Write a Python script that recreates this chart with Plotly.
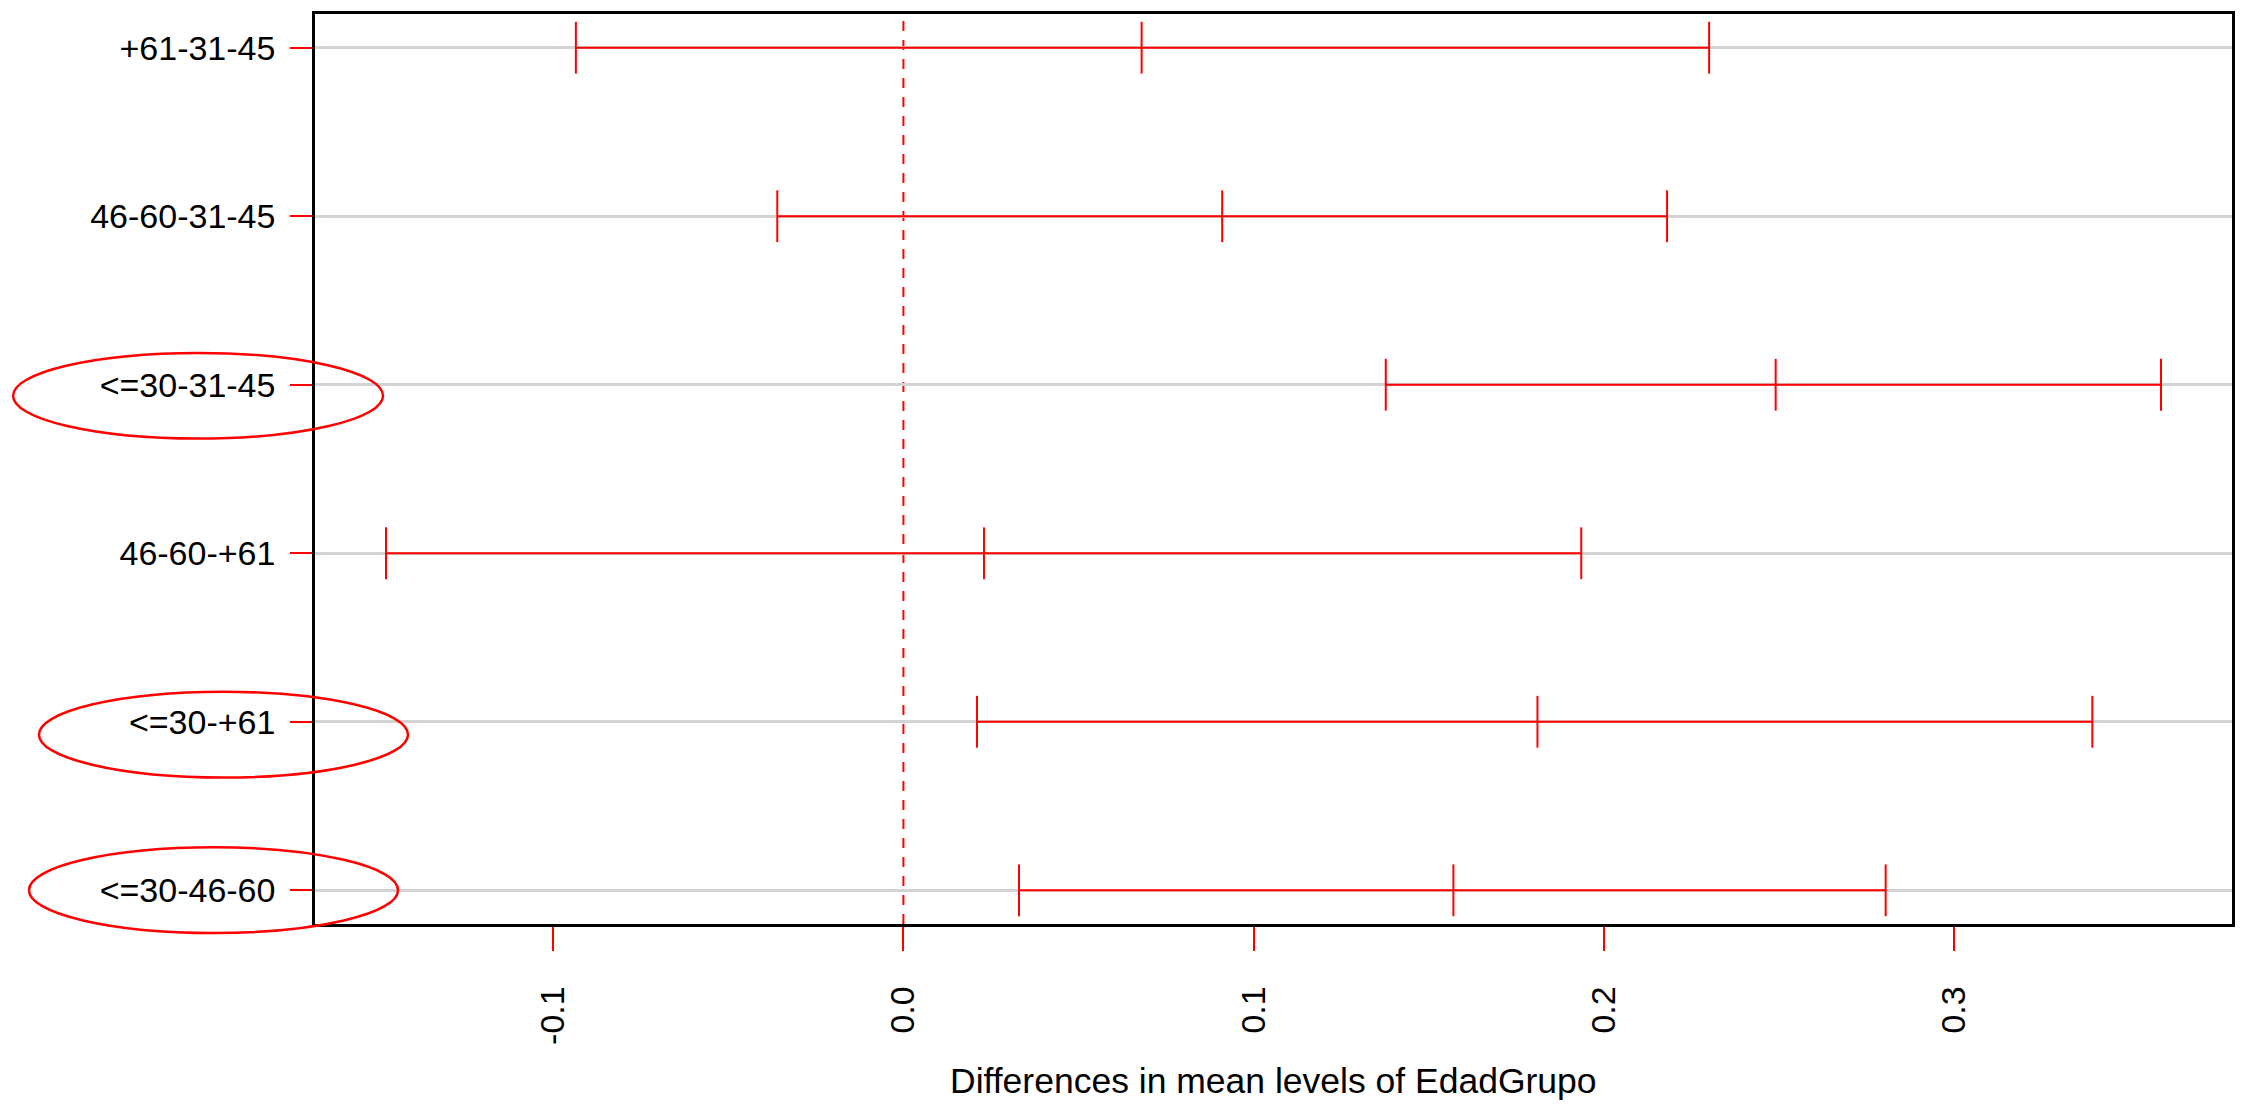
import plotly.graph_objects as go

# ---- data (Tukey HSD, EdadGrupo) ----
comparisons = ["+61-31-45", "46-60-31-45", "<=30-31-45", "46-60-+61", "<=30-+61", "<=30-46-60"]
diff = [0.068, 0.091, 0.249, 0.023, 0.181, 0.157]
lwr = [-0.0935, -0.036, 0.1377, -0.1477, 0.021, 0.033]
upr = [0.2300, 0.218, 0.359, 0.1935, 0.3394, 0.2804]
x_ticks = [-0.1, 0.0, 0.1, 0.2, 0.3]
x_tick_labels = ["-0.1", "0.0", "0.1", "0.2", "0.3"]
x_title = "Differences in mean levels of EdadGrupo"

n = len(comparisons)
yvals = list(range(n, 0, -1))  # top row = n

RED = "#ff0000"
FONT = "Liberation Sans, Arial, sans-serif"

fig = go.Figure()

# horizontal interval segments
seg_x, seg_y = [], []
for lo, hi, y in zip(lwr, upr, yvals):
    seg_x += [lo, hi, None]
    seg_y += [y, y, None]
fig.add_trace(go.Scatter(x=seg_x, y=seg_y, mode="lines",
                         line=dict(color=RED, width=2), hoverinfo="skip", showlegend=False))

# vertical caps at lwr, diff, upr
cap_x = lwr + diff + upr
cap_y = yvals * 3
fig.add_trace(go.Scatter(x=cap_x, y=cap_y, mode="markers",
                         marker=dict(symbol="line-ns", size=37,
                                     line=dict(color=RED, width=2)),
                         hoverinfo="skip", showlegend=False))

# x-range like R (4% extension)
xmin, xmax = min(lwr), max(upr)
ext = 0.04 * (xmax - xmin)
ymin, ymax = min(yvals), max(yvals)
yext = 0.04 * (ymax - ymin)

# zero reference line (dashed)
fig.add_shape(type="line", xref="x", yref="paper", x0=0, x1=0, y0=0, y1=1,
              line=dict(color=RED, width=2, dash="10px,9px"), layer="between")

# highlight ellipses drawn around some labels
ellipses = [(-0.1575, 0.0355, 0.5334, 0.6276),
            (-0.1440, 0.0485, 0.1610, 0.2552),
            (-0.1492, 0.0433, -0.0099, 0.0843)]
for x0, x1, y0, y1 in ellipses:
    fig.add_shape(type="circle", xref="paper", yref="paper", x0=x0, x1=x1, y0=y0, y1=y1,
                  line=dict(color=RED, width=2.5), layer="above")

fig.add_annotation(text=x_title, xref="paper", yref="paper", x=0.5, y=-0.172,
                   xanchor="center", yanchor="middle", showarrow=False,
                   font=dict(family=FONT, size=35.5, color="#000"))

fig.update_layout(
    width=2253, height=1110,
    margin=dict(l=315, r=21, t=11, b=186),
    paper_bgcolor="white", plot_bgcolor="white",
    font=dict(family=FONT, color="#000"),
    xaxis=dict(range=[xmin - ext, xmax + ext], tickvals=x_ticks, ticktext=x_tick_labels,
               tickangle=-90, ticks="outside", ticklen=24, tickcolor=RED, tickwidth=1.5,
               ticklabelstandoff=22,
               tickfont=dict(family=FONT, size=34, color="#000"),
               showgrid=False, zeroline=False, showline=True, linecolor="#000",
               linewidth=2.5, mirror=True),
    yaxis=dict(range=[ymin - yext, ymax + yext], tickvals=yvals, ticktext=comparisons,
               ticks="outside", ticklen=22, tickcolor=RED, tickwidth=1.5,
               ticklabelstandoff=8,
               tickfont=dict(family=FONT, size=34, color="#000"),
               showgrid=True, gridcolor="#d3d3d3", gridwidth=2.5,
               zeroline=False, showline=True, linecolor="#000", linewidth=2.5, mirror=True),
)

fig.write_html("out.html", config={"displayModeBar": False},
               post_script="document.body.style.margin='0';")
